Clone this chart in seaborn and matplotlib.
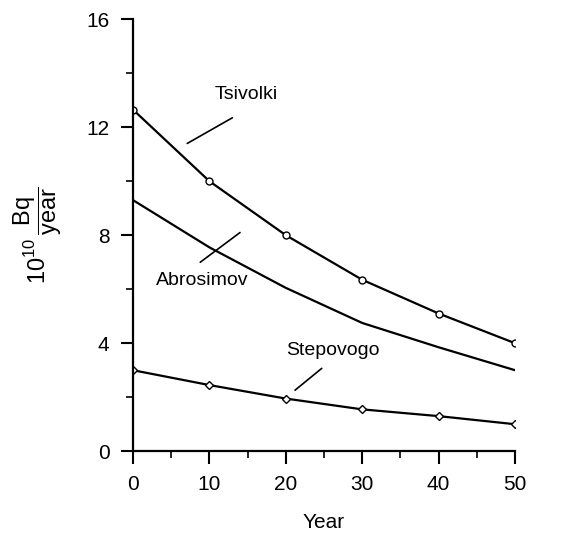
import pandas as pd
import seaborn as sns
import matplotlib.pyplot as plt
from matplotlib.ticker import MultipleLocator

# ==========================
# DATA
# ==========================

years = [0, 10, 20, 30, 40, 50]
tsivolki = [12.65, 10.0, 8.0, 6.35, 5.1, 4.0]
abrosimov = [9.3, 7.55, 6.05, 4.75, 3.85, 3.0]
stepovogo = [3.0, 2.45, 1.95, 1.55, 1.3, 1.0]

# ==========================
# STYLE
# ==========================

sns.set_style("ticks")
plt.rcParams['font.family'] = ['Liberation Sans', 'DejaVu Sans']
plt.rcParams['mathtext.fontset'] = 'custom'
plt.rcParams['mathtext.rm'] = 'Liberation Sans'
plt.rcParams['text.color'] = 'black'
plt.rcParams['axes.labelcolor'] = 'black'
plt.rcParams['xtick.color'] = 'black'
plt.rcParams['ytick.color'] = 'black'
plt.rcParams['axes.edgecolor'] = 'black'

fig = plt.figure(figsize=(5.86, 5.34), dpi=100)
ax = fig.add_axes([0.227, 0.155, 0.652, 0.809])

# ==========================
# LINES
# ==========================

sns.lineplot(x=years, y=tsivolki, ax=ax, color="black", lw=1.6,
             marker="o", markersize=5, markerfacecolor="white",
             markeredgecolor="black", markeredgewidth=1.0)
sns.lineplot(x=years, y=abrosimov, ax=ax, color="black", lw=1.6)
sns.lineplot(x=years, y=stepovogo, ax=ax, color="black", lw=1.6,
             marker="D", markersize=4.5, markerfacecolor="white",
             markeredgecolor="black", markeredgewidth=1.0)

# labels with leader lines
ax.text(14.8, 13.2, "Tsivolki", fontsize=14, ha="center", va="center")
ax.plot([7.1, 13.0], [11.4, 12.35], color="black", lw=1.2)

ax.text(9.0, 6.33, "Abrosimov", fontsize=14, ha="center", va="center")
ax.plot([8.8, 14.0], [7.0, 8.1], color="black", lw=1.2)

ax.text(26.2, 3.74, "Stepovogo", fontsize=14, ha="center", va="center")
ax.plot([21.2, 24.7], [2.26, 3.07], color="black", lw=1.2)

# ==========================
# AXES
# ==========================

ax.set_xlim(0, 50)
ax.set_ylim(0, 16)
ax.xaxis.set_major_locator(MultipleLocator(10))
ax.xaxis.set_minor_locator(MultipleLocator(5))
ax.yaxis.set_major_locator(MultipleLocator(4))
ax.yaxis.set_minor_locator(MultipleLocator(2))
ax.tick_params(which="major", length=9, width=1.5, labelsize=15,
               direction="out", pad=8)
ax.tick_params(which="minor", length=5, width=1.2, direction="out")
for s in ["left", "bottom"]:
    ax.spines[s].set_linewidth(1.6)
sns.despine(ax=ax)

ax.set_xlabel("Year", fontsize=15, labelpad=14)
ax.set_ylabel(r"$10^{10}\,\dfrac{\mathrm{Bq}}{\mathrm{year}}$", fontsize=17, labelpad=16)

plt.savefig("out.png", dpi=100)
